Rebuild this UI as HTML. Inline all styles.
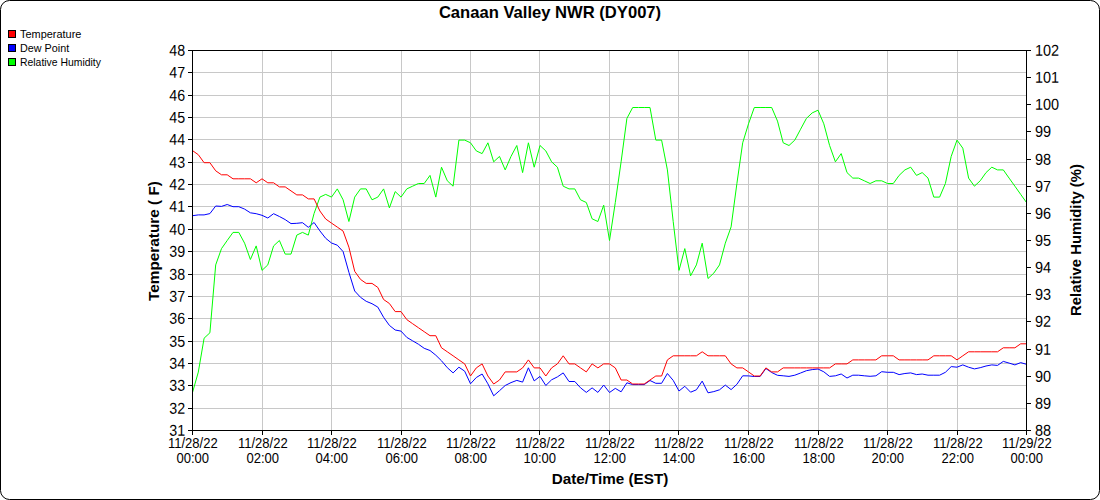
<!DOCTYPE html><html><head><meta charset="utf-8"><title>Canaan Valley NWR (DY007)</title>
<style>html,body{margin:0;padding:0;background:#fff;}svg{display:block}text{font-family:"Liberation Sans",Arial,sans-serif;fill:#000}</style></head><body>
<svg width="1100" height="500" viewBox="0 0 1100 500">
<rect x="0" y="0" width="1100" height="500" fill="#fff"/>
<rect x="0.5" y="0.5" width="1099" height="499" rx="9" ry="9" fill="none" stroke="#000" stroke-width="1"/>
<path d="M192.5 408.5H1026.5M192.5 385.5H1026.5M192.5 363.5H1026.5M192.5 341.5H1026.5M192.5 318.5H1026.5M192.5 296.5H1026.5M192.5 274.5H1026.5M192.5 251.5H1026.5M192.5 229.5H1026.5M192.5 206.5H1026.5M192.5 184.5H1026.5M192.5 162.5H1026.5M192.5 139.5H1026.5M192.5 117.5H1026.5M192.5 95.5H1026.5M192.5 72.5H1026.5M262.5 50.5V430.5M331.5 50.5V430.5M401.5 50.5V430.5M470.5 50.5V430.5M539.5 50.5V430.5M609.5 50.5V430.5M678.5 50.5V430.5M748.5 50.5V430.5M818.5 50.5V430.5M887.5 50.5V430.5M957.5 50.5V430.5" stroke="#c8c8c8" stroke-width="1" fill="none" shape-rendering="crispEdges"/>
<path d="M192.5 215.7 L198.3 214.9 L204.1 214.9 L209.9 213.6 L215.7 206.0 L221.5 206.4 L227.2 204.5 L233.0 206.7 L238.8 206.7 L244.6 209.1 L250.4 212.8 L256.2 213.7 L262.0 215.3 L267.8 218.0 L273.6 213.7 L279.4 216.5 L285.2 219.6 L291.0 223.6 L296.8 223.3 L302.5 222.7 L308.3 227.3 L314.1 222.5 L319.9 230.9 L325.7 238.3 L331.5 243.0 L337.3 245.2 L343.1 251.6 L348.9 272.3 L354.7 291.0 L360.5 297.3 L366.2 301.3 L372.0 303.7 L377.8 307.1 L383.6 317.3 L389.4 325.4 L395.2 330.0 L401.0 331.1 L406.8 337.4 L412.6 340.8 L418.4 344.2 L424.2 348.3 L430.0 350.5 L435.8 355.2 L441.5 360.8 L447.3 367.7 L453.1 372.9 L458.9 367.2 L464.7 371.2 L470.5 383.8 L476.3 377.5 L482.1 374.0 L487.9 383.8 L493.7 395.8 L499.5 390.7 L505.2 385.5 L511.0 382.6 L516.8 380.4 L522.6 382.1 L528.4 367.8 L534.2 380.9 L540.0 376.4 L545.8 385.5 L551.6 379.8 L557.4 376.9 L563.2 372.9 L569.0 381.5 L574.8 381.5 L580.5 387.8 L586.3 392.4 L592.1 387.9 L597.9 392.4 L603.7 385.0 L609.5 392.5 L615.3 388.4 L621.1 391.8 L626.9 382.8 L632.7 384.6 L638.5 384.6 L644.2 384.6 L650.0 380.5 L655.8 383.3 L661.6 383.3 L667.4 373.5 L673.2 380.4 L679.0 391.0 L684.8 386.3 L690.6 392.2 L696.4 389.8 L702.2 381.1 L708.0 392.8 L713.8 391.6 L719.5 389.8 L725.3 385.1 L731.1 389.6 L736.9 384.3 L742.7 375.8 L748.5 375.9 L754.3 376.5 L760.1 376.5 L765.9 368.5 L771.7 372.5 L777.5 375.3 L783.2 375.8 L789.0 376.4 L794.8 375.2 L800.6 373.0 L806.4 370.7 L812.2 369.6 L818.0 369.0 L823.8 371.8 L829.6 376.4 L835.4 375.8 L841.2 374.0 L847.0 378.0 L852.8 375.2 L858.5 375.2 L864.3 375.8 L870.1 376.3 L875.9 375.8 L881.7 371.7 L887.5 372.3 L893.3 372.3 L899.1 374.6 L904.9 373.5 L910.7 372.9 L916.5 374.6 L922.2 374.0 L928.0 375.2 L933.8 375.2 L939.6 375.2 L945.4 372.3 L951.2 366.6 L957.0 367.2 L962.8 364.9 L968.6 367.2 L974.4 368.9 L980.2 367.7 L986.0 366.0 L991.8 364.9 L997.5 365.4 L1003.3 361.4 L1009.1 363.1 L1014.9 364.9 L1020.7 362.6 L1026.5 364.3" stroke="#0000ff" stroke-width="1" fill="none" stroke-linejoin="round"/>
<path d="M192.5 392.5 L198.3 372.1 L204.1 338.2 L209.9 332.8 L215.7 264.9 L221.5 248.6 L227.2 240.5 L233.0 232.4 L238.8 232.4 L244.6 243.2 L250.4 259.5 L256.2 245.9 L262.0 270.4 L267.8 264.9 L273.6 245.9 L279.4 240.5 L285.2 254.1 L291.0 254.1 L296.8 235.1 L302.5 232.4 L308.3 235.1 L314.1 213.4 L319.9 197.1 L325.7 194.4 L331.5 197.1 L337.3 188.9 L343.1 199.8 L348.9 221.5 L354.7 197.1 L360.5 188.9 L366.2 188.9 L372.0 199.8 L377.8 197.1 L383.6 188.9 L389.4 207.9 L395.2 191.6 L401.0 197.1 L406.8 188.9 L412.6 186.2 L418.4 183.5 L424.2 183.5 L430.0 175.4 L435.8 197.1 L441.5 167.2 L447.3 180.8 L453.1 186.2 L458.9 140.1 L464.7 140.1 L470.5 142.8 L476.3 150.9 L482.1 153.6 L487.9 142.8 L493.7 161.8 L499.5 156.4 L505.2 169.9 L511.0 156.4 L516.8 145.5 L522.6 172.6 L528.4 142.8 L534.2 167.2 L540.0 145.5 L545.8 150.9 L551.6 161.8 L557.4 167.2 L563.2 186.2 L569.0 188.9 L574.8 188.9 L580.5 199.8 L586.3 202.5 L592.1 218.8 L597.9 221.5 L603.7 205.2 L609.5 240.5 L615.3 202.5 L621.1 161.8 L626.9 118.4 L632.7 107.5 L638.5 107.5 L644.2 107.5 L650.0 107.5 L655.8 140.1 L661.6 140.1 L667.4 169.9 L673.2 221.5 L679.0 270.4 L684.8 248.6 L690.6 275.8 L696.4 264.9 L702.2 243.2 L708.0 278.5 L713.8 273.1 L719.5 264.9 L725.3 243.2 L731.1 226.9 L736.9 183.5 L742.7 142.8 L748.5 123.8 L754.3 107.5 L760.1 107.5 L765.9 107.5 L771.7 107.5 L777.5 121.1 L783.2 142.8 L789.0 145.5 L794.8 140.1 L800.6 129.2 L806.4 118.4 L812.2 112.9 L818.0 110.2 L823.8 123.8 L829.6 145.5 L835.4 161.8 L841.2 153.6 L847.0 172.6 L852.8 178.1 L858.5 178.1 L864.3 180.8 L870.1 183.5 L875.9 180.8 L881.7 180.8 L887.5 183.5 L893.3 183.5 L899.1 175.4 L904.9 169.9 L910.7 167.2 L916.5 175.4 L922.2 172.6 L928.0 178.1 L933.8 197.1 L939.6 197.1 L945.4 183.5 L951.2 156.4 L957.0 140.1 L962.8 148.2 L968.6 178.1 L974.4 186.2 L980.2 180.8 L986.0 172.6 L991.8 167.2 L997.5 169.9 L1003.3 169.9 L1009.1 178.1 L1014.9 186.2 L1020.7 194.4 L1026.5 202.5" stroke="#00ff00" stroke-width="1" fill="none" stroke-linejoin="round"/>
<path d="M192.5 150.6 L198.3 154.7 L204.1 162.7 L209.9 162.7 L215.7 170.8 L221.5 174.8 L227.2 174.8 L233.0 178.8 L238.8 178.8 L244.6 178.8 L250.4 178.8 L256.2 182.8 L262.0 178.8 L267.8 182.8 L273.6 182.8 L279.4 186.9 L285.2 186.9 L291.0 190.9 L296.8 194.9 L302.5 194.9 L308.3 198.9 L314.1 198.9 L319.9 211.0 L325.7 219.0 L331.5 223.1 L337.3 227.1 L343.1 231.1 L348.9 247.2 L354.7 271.3 L360.5 279.4 L366.2 283.4 L372.0 283.4 L377.8 287.4 L383.6 299.5 L389.4 303.5 L395.2 311.6 L401.0 311.6 L406.8 319.6 L412.6 323.7 L418.4 327.7 L424.2 331.7 L430.0 335.7 L435.8 335.7 L441.5 347.8 L447.3 351.8 L453.1 355.8 L458.9 359.9 L464.7 363.9 L470.5 376.0 L476.3 367.9 L482.1 363.9 L487.9 376.0 L493.7 384.0 L499.5 380.0 L505.2 371.9 L511.0 371.9 L516.8 371.9 L522.6 367.9 L528.4 359.9 L534.2 367.9 L540.0 367.9 L545.8 376.0 L551.6 367.9 L557.4 363.9 L563.2 355.8 L569.0 363.9 L574.8 363.9 L580.5 367.9 L586.3 371.9 L592.1 363.9 L597.9 367.9 L603.7 363.9 L609.5 363.9 L615.3 367.9 L621.1 380.0 L626.9 380.0 L632.7 384.0 L638.5 384.0 L644.2 384.0 L650.0 380.0 L655.8 376.0 L661.6 376.0 L667.4 359.9 L673.2 355.8 L679.0 355.8 L684.8 355.8 L690.6 355.8 L696.4 355.8 L702.2 351.8 L708.0 355.8 L713.8 355.8 L719.5 355.8 L725.3 355.8 L731.1 363.9 L736.9 367.9 L742.7 367.9 L748.5 371.9 L754.3 376.0 L760.1 376.0 L765.9 367.9 L771.7 371.9 L777.5 371.9 L783.2 367.9 L789.0 367.9 L794.8 367.9 L800.6 367.9 L806.4 367.9 L812.2 367.9 L818.0 367.9 L823.8 367.9 L829.6 367.9 L835.4 363.9 L841.2 363.9 L847.0 363.9 L852.8 359.9 L858.5 359.9 L864.3 359.9 L870.1 359.9 L875.9 359.9 L881.7 355.8 L887.5 355.8 L893.3 355.8 L899.1 359.9 L904.9 359.9 L910.7 359.9 L916.5 359.9 L922.2 359.9 L928.0 359.9 L933.8 355.8 L939.6 355.8 L945.4 355.8 L951.2 355.8 L957.0 359.9 L962.8 355.8 L968.6 351.8 L974.4 351.8 L980.2 351.8 L986.0 351.8 L991.8 351.8 L997.5 351.8 L1003.3 347.8 L1009.1 347.8 L1014.9 347.8 L1020.7 343.8 L1026.5 343.8" stroke="#ff0000" stroke-width="1" fill="none" stroke-linejoin="round"/>
<path d="M192.5 50.5H1026.5V430.5H192.5ZM188.0 430.5H192.5M188.0 408.5H192.5M188.0 385.5H192.5M188.0 363.5H192.5M188.0 341.5H192.5M188.0 318.5H192.5M188.0 296.5H192.5M188.0 274.5H192.5M188.0 251.5H192.5M188.0 229.5H192.5M188.0 206.5H192.5M188.0 184.5H192.5M188.0 162.5H192.5M188.0 139.5H192.5M188.0 117.5H192.5M188.0 95.5H192.5M188.0 72.5H192.5M188.0 50.5H192.5M1026.5 430.5H1031.0M1026.5 403.5H1031.0M1026.5 376.5H1031.0M1026.5 349.5H1031.0M1026.5 321.5H1031.0M1026.5 294.5H1031.0M1026.5 267.5H1031.0M1026.5 240.5H1031.0M1026.5 213.5H1031.0M1026.5 186.5H1031.0M1026.5 159.5H1031.0M1026.5 131.5H1031.0M1026.5 104.5H1031.0M1026.5 77.5H1031.0M1026.5 50.5H1031.0M192.5 430.5V435.0M262.5 430.5V435.0M331.5 430.5V435.0M401.5 430.5V435.0M470.5 430.5V435.0M539.5 430.5V435.0M609.5 430.5V435.0M678.5 430.5V435.0M748.5 430.5V435.0M818.5 430.5V435.0M887.5 430.5V435.0M957.5 430.5V435.0M1026.5 430.5V435.0" stroke="#000" stroke-width="1" fill="none" shape-rendering="crispEdges"/>
<text transform="translate(185.1,435.8) rotate(0.2) scale(0.9,1)" font-size="15.8" text-anchor="end">31</text>
<text transform="translate(185.1,413.8) rotate(0.2) scale(0.9,1)" font-size="15.8" text-anchor="end">32</text>
<text transform="translate(185.1,390.8) rotate(0.2) scale(0.9,1)" font-size="15.8" text-anchor="end">33</text>
<text transform="translate(185.1,368.8) rotate(0.2) scale(0.9,1)" font-size="15.8" text-anchor="end">34</text>
<text transform="translate(185.1,346.8) rotate(0.2) scale(0.9,1)" font-size="15.8" text-anchor="end">35</text>
<text transform="translate(185.1,323.8) rotate(0.2) scale(0.9,1)" font-size="15.8" text-anchor="end">36</text>
<text transform="translate(185.1,301.8) rotate(0.2) scale(0.9,1)" font-size="15.8" text-anchor="end">37</text>
<text transform="translate(185.1,279.8) rotate(0.2) scale(0.9,1)" font-size="15.8" text-anchor="end">38</text>
<text transform="translate(185.1,256.8) rotate(0.2) scale(0.9,1)" font-size="15.8" text-anchor="end">39</text>
<text transform="translate(185.1,234.8) rotate(0.2) scale(0.9,1)" font-size="15.8" text-anchor="end">40</text>
<text transform="translate(185.1,211.8) rotate(0.2) scale(0.9,1)" font-size="15.8" text-anchor="end">41</text>
<text transform="translate(185.1,189.8) rotate(0.2) scale(0.9,1)" font-size="15.8" text-anchor="end">42</text>
<text transform="translate(185.1,167.8) rotate(0.2) scale(0.9,1)" font-size="15.8" text-anchor="end">43</text>
<text transform="translate(185.1,144.8) rotate(0.2) scale(0.9,1)" font-size="15.8" text-anchor="end">44</text>
<text transform="translate(185.1,122.8) rotate(0.2) scale(0.9,1)" font-size="15.8" text-anchor="end">45</text>
<text transform="translate(185.1,100.8) rotate(0.2) scale(0.9,1)" font-size="15.8" text-anchor="end">46</text>
<text transform="translate(185.1,77.8) rotate(0.2) scale(0.9,1)" font-size="15.8" text-anchor="end">47</text>
<text transform="translate(185.1,55.8) rotate(0.2) scale(0.9,1)" font-size="15.8" text-anchor="end">48</text>
<text transform="translate(1035,435.8) rotate(0.2) scale(0.915,1)" font-size="15.8">88</text>
<text transform="translate(1035,408.8) rotate(0.2) scale(0.915,1)" font-size="15.8">89</text>
<text transform="translate(1035,381.8) rotate(0.2) scale(0.915,1)" font-size="15.8">90</text>
<text transform="translate(1035,354.8) rotate(0.2) scale(0.915,1)" font-size="15.8">91</text>
<text transform="translate(1035,326.8) rotate(0.2) scale(0.915,1)" font-size="15.8">92</text>
<text transform="translate(1035,299.8) rotate(0.2) scale(0.915,1)" font-size="15.8">93</text>
<text transform="translate(1035,272.8) rotate(0.2) scale(0.915,1)" font-size="15.8">94</text>
<text transform="translate(1035,245.8) rotate(0.2) scale(0.915,1)" font-size="15.8">95</text>
<text transform="translate(1035,218.8) rotate(0.2) scale(0.915,1)" font-size="15.8">96</text>
<text transform="translate(1035,191.8) rotate(0.2) scale(0.915,1)" font-size="15.8">97</text>
<text transform="translate(1035,164.8) rotate(0.2) scale(0.915,1)" font-size="15.8">98</text>
<text transform="translate(1035,136.8) rotate(0.2) scale(0.915,1)" font-size="15.8">99</text>
<text transform="translate(1035,109.8) rotate(0.2) scale(0.915,1)" font-size="15.8">100</text>
<text transform="translate(1035,82.8) rotate(0.2) scale(0.915,1)" font-size="15.8">101</text>
<text transform="translate(1035,55.8) rotate(0.2) scale(0.915,1)" font-size="15.8">102</text>
<text transform="translate(192.8,448.2) scale(0.9,1)" font-size="14.5" text-anchor="middle">11/28/22</text>
<text transform="translate(192.8,463.2) scale(0.9,1)" font-size="14.5" text-anchor="middle">00:00</text>
<text transform="translate(262.8,448.2) scale(0.9,1)" font-size="14.5" text-anchor="middle">11/28/22</text>
<text transform="translate(262.8,463.2) scale(0.9,1)" font-size="14.5" text-anchor="middle">02:00</text>
<text transform="translate(331.8,448.2) scale(0.9,1)" font-size="14.5" text-anchor="middle">11/28/22</text>
<text transform="translate(331.8,463.2) scale(0.9,1)" font-size="14.5" text-anchor="middle">04:00</text>
<text transform="translate(401.8,448.2) scale(0.9,1)" font-size="14.5" text-anchor="middle">11/28/22</text>
<text transform="translate(401.8,463.2) scale(0.9,1)" font-size="14.5" text-anchor="middle">06:00</text>
<text transform="translate(470.8,448.2) scale(0.9,1)" font-size="14.5" text-anchor="middle">11/28/22</text>
<text transform="translate(470.8,463.2) scale(0.9,1)" font-size="14.5" text-anchor="middle">08:00</text>
<text transform="translate(539.8,448.2) scale(0.9,1)" font-size="14.5" text-anchor="middle">11/28/22</text>
<text transform="translate(539.8,463.2) scale(0.9,1)" font-size="14.5" text-anchor="middle">10:00</text>
<text transform="translate(609.8,448.2) scale(0.9,1)" font-size="14.5" text-anchor="middle">11/28/22</text>
<text transform="translate(609.8,463.2) scale(0.9,1)" font-size="14.5" text-anchor="middle">12:00</text>
<text transform="translate(678.8,448.2) scale(0.9,1)" font-size="14.5" text-anchor="middle">11/28/22</text>
<text transform="translate(678.8,463.2) scale(0.9,1)" font-size="14.5" text-anchor="middle">14:00</text>
<text transform="translate(748.8,448.2) scale(0.9,1)" font-size="14.5" text-anchor="middle">11/28/22</text>
<text transform="translate(748.8,463.2) scale(0.9,1)" font-size="14.5" text-anchor="middle">16:00</text>
<text transform="translate(818.8,448.2) scale(0.9,1)" font-size="14.5" text-anchor="middle">11/28/22</text>
<text transform="translate(818.8,463.2) scale(0.9,1)" font-size="14.5" text-anchor="middle">18:00</text>
<text transform="translate(887.8,448.2) scale(0.9,1)" font-size="14.5" text-anchor="middle">11/28/22</text>
<text transform="translate(887.8,463.2) scale(0.9,1)" font-size="14.5" text-anchor="middle">20:00</text>
<text transform="translate(957.8,448.2) scale(0.9,1)" font-size="14.5" text-anchor="middle">11/28/22</text>
<text transform="translate(957.8,463.2) scale(0.9,1)" font-size="14.5" text-anchor="middle">22:00</text>
<text transform="translate(1026.8,448.2) scale(0.9,1)" font-size="14.5" text-anchor="middle">11/29/22</text>
<text transform="translate(1026.8,463.2) scale(0.9,1)" font-size="14.5" text-anchor="middle">00:00</text>
<text x="550" y="18.3" font-size="16.6" font-weight="bold" text-anchor="middle">Canaan Valley NWR (DY007)</text>
<text x="610" y="484" font-size="15.25" font-weight="bold" text-anchor="middle">Date/Time (EST)</text>
<text transform="translate(159,241) rotate(-90)" font-size="15.33" font-weight="bold" text-anchor="middle">Temperature ( F)</text>
<text transform="translate(1080.5,240) rotate(-90)" font-size="14.85" font-weight="bold" text-anchor="middle">Relative Humidity (%)</text>
<rect x="8.5" y="30.5" width="7" height="7" fill="#ff0000" stroke="#000" stroke-width="1" shape-rendering="crispEdges"/>
<text transform="translate(20,37.8) scale(1.025,1)" font-size="10.67">Temperature</text>
<rect x="8.5" y="44.5" width="7" height="7" fill="#0000ff" stroke="#000" stroke-width="1" shape-rendering="crispEdges"/>
<text transform="translate(20,51.8) scale(1.012,1)" font-size="10.67">Dew Point</text>
<rect x="8.5" y="58.5" width="7" height="7" fill="#00ff00" stroke="#000" stroke-width="1" shape-rendering="crispEdges"/>
<text transform="translate(20,65.8) scale(0.976,1)" font-size="10.67">Relative Humidity</text>
</svg></body></html>
